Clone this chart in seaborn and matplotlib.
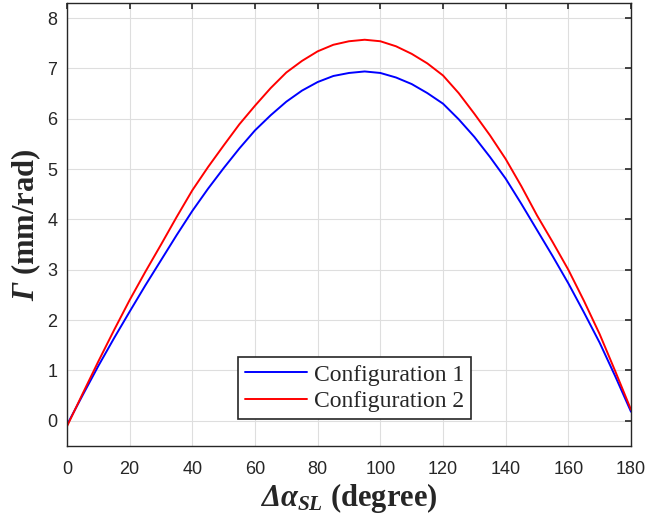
import pandas as pd
import seaborn as sns
import matplotlib.pyplot as plt

# veriler
angle = [0, 5, 10, 15, 20, 25, 30, 35, 40, 45, 50, 55, 60, 65, 70, 75, 80, 85, 90, 95,
         100, 105, 110, 115, 120, 125, 130, 135, 140, 145, 150, 155, 160, 165, 170, 175, 180]
gamma_conf1 = [-0.08, 0.51, 1.09, 1.64, 2.17, 2.69, 3.19, 3.69, 4.17, 4.61, 5.02, 5.41, 5.77,
               6.07, 6.34, 6.56, 6.73, 6.85, 6.91, 6.94, 6.91, 6.82, 6.69, 6.51, 6.30, 5.99,
               5.64, 5.24, 4.81, 4.31, 3.79, 3.27, 2.73, 2.15, 1.55, 0.88, 0.18]
gamma_conf2 = [-0.11, 0.54, 1.18, 1.80, 2.40, 2.96, 3.50, 4.05, 4.58, 5.04, 5.47, 5.89, 6.26,
               6.61, 6.92, 7.15, 7.34, 7.47, 7.54, 7.57, 7.54, 7.44, 7.29, 7.10, 6.86, 6.51,
               6.10, 5.67, 5.20, 4.66, 4.08, 3.55, 3.00, 2.38, 1.72, 0.98, 0.22]
labels = ['Configuration 1', 'Configuration 2']
x_ticks = [0, 20, 40, 60, 80, 100, 120, 140, 160, 180]
y_ticks = [0, 1, 2, 3, 4, 5, 6, 7, 8]

df = pd.DataFrame({
    'angle': angle + angle,
    'gamma': gamma_conf1 + gamma_conf2,
    'config': [labels[0]] * len(angle) + [labels[1]] * len(angle),
})

sns.set_style('white')
plt.rcParams['font.family'] = ['Liberation Sans', 'DejaVu Sans']
# eksen etiketleri icin Times benzeri kalin/italik yazi
plt.rcParams['mathtext.fontset'] = 'custom'
plt.rcParams['mathtext.rm'] = 'Liberation Serif:bold'
plt.rcParams['mathtext.it'] = 'Liberation Serif:italic:bold'
plt.rcParams['mathtext.bf'] = 'Liberation Serif:italic:bold'  # buyuk Yunan harfleri italik olsun

fig = plt.figure(figsize=(6.48, 5.25), dpi=100)
ax = fig.add_axes([0.1034, 0.1505, 0.8704, 0.8438])

sns.lineplot(data=df, x='angle', y='gamma', hue='config', palette=['#0000ff', '#ff0000'],
             linewidth=1.4, ax=ax)

ax.set_xlim(0, 180)
ax.set_ylim(-0.5, 8.3)
ax.set_xticks(x_ticks)
ax.set_yticks(y_ticks)
ax.grid(True, color='#dedede', linewidth=0.8)
ax.tick_params(direction='in', length=4, width=1.2, top=True, right=True,
               labelsize=13, colors='#262626')
ax.tick_params(axis='x', pad=11)
ax.tick_params(axis='y', pad=7)
for s in ax.spines.values():
    s.set_color('#262626')
    s.set_linewidth(1.0)

ax.set_xlabel(r'$\mathbf{\Delta}\mathit{\alpha}_{\mathit{SL}}$ (degree)', fontfamily='Liberation Serif',
              fontweight='bold', fontsize=22, labelpad=2)
ax.set_ylabel(r'$\mathbf{\Gamma}$ (mm/rad)', fontfamily='Liberation Serif',
              fontweight='bold', fontsize=22, labelpad=3)

leg = ax.legend(loc='lower center', bbox_to_anchor=(0.51, 0.06), fancybox=False, framealpha=1,
                edgecolor='#262626', borderpad=0.3, handlelength=2.6, handletextpad=0.3,
                labelspacing=0.22, borderaxespad=0,
                prop={'family': 'Liberation Serif', 'size': 17})
leg.get_frame().set_linewidth(1.2)

plt.savefig('out.png', dpi=100)
